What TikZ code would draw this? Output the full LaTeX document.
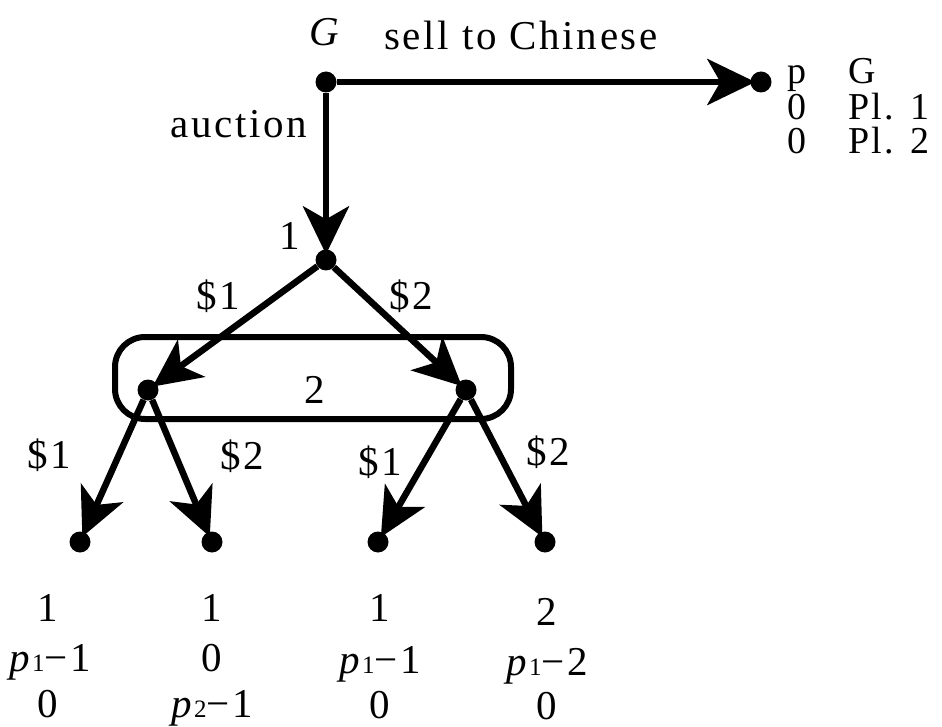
\documentclass[tikz,border=0pt]{standalone}
\usepackage{fontspec}
\setmainfont[LetterSpace=6.5]{Liberation Serif}
\usetikzlibrary{arrows.meta}
\newcommand{\sub}[1]{\hbox{\fontsize{25}{25}\selectfont #1}}
\tikzset{
  dot/.style={circle, fill=black, inner sep=0pt, minimum size=21pt},
  edge/.style={line width=6.5pt, shorten >=-5pt, -{Stealth[length=48pt, width=46pt, inset=13pt]}},
  lbl/.style={font=\fontsize{41}{41}\selectfont, inner sep=0pt},
  pay/.style={lbl, anchor=base},
  tpay/.style={font=\fontsize{38}{38}\selectfont, inner sep=0pt, text height=25pt, text depth=0pt},
  infobox/.style={draw, line width=6pt, rounded corners=30pt, minimum width=396pt, minimum height=82pt, inner sep=0pt}
}
\begin{document}
\begin{tikzpicture}[x=1pt, y=-1pt]
\useasboundingbox (0,0) rectangle (942,727);
% info set
\node[infobox] (info) at (313,378) {};
% nodes
\node[dot] (g) at (326,82) {};
\node[dot] (t) at (761,82) {};
\node[dot] (n1) at (326,260) {};
\node[dot] (a) at (148,390) {};
\node[dot] (b) at (466,390) {};
\node[dot] (l1) at (80,542) {};
\node[dot] (l2) at (212,542) {};
\node[dot] (l3) at (378,542) {};
\node[dot] (l4) at (545,542) {};
% edges
\draw[edge] (g) -- (t);
\draw[edge] (g) -- (n1);
\draw[edge] (n1) -- (a);
\draw[edge] (n1) -- (b);
\draw[edge] (a) -- (l1);
\draw[edge] (a) -- (l2);
\draw[edge] (b) -- (l3);
\draw[edge] (b) -- (l4);
% labels
\node[lbl] (gl) at (326,32) {\textit{G}};
\node[lbl] (sell) at (521,35) {sell to Chinese};
\node[lbl] (auc) at (239,124) {auction};
\node[lbl] (one) at (290,236) {1};
\node[lbl] (two) at (315,390) {2};
\node[lbl] (e1) at (218,296) {\$1};
\node[lbl] (e2) at (411,296) {\$2};
\node[lbl] (e3) at (49,455) {\$1};
\node[lbl] (e4) at (242,456) {\$2};
\node[lbl] (e5) at (380,462) {\$1};
\node[lbl] (e6) at (548,452) {\$2};
% terminal payoff for sell
\node[tpay, anchor=base] (tp) at (797,84) {p};
\node[tpay, anchor=base] (t0a) at (797,120) {0};
\node[tpay, anchor=base] (t0b) at (797,154) {0};
\node[tpay, anchor=base west] (tg) at (848,84) {G};
\node[tpay, anchor=base west] (tp1) at (848,120) {Pl. 1};
\node[tpay, anchor=base west] (tp2) at (848,154) {Pl. 2};
% payoffs
\node[pay] (a1) at (48,621) {1};
\node[pay] (a2) at (50,671) {\textit{p}\sub{1}−1};
\node[pay] (a3) at (48,717) {0};
\node[pay] (b1) at (212,621) {1};
\node[pay] (b2) at (212,671) {0};
\node[pay] (b3) at (212,717) {\textit{p}\sub{2}−1};
\node[pay] (c1) at (380,621) {1};
\node[pay] (c2) at (380,673) {\textit{p}\sub{1}−1};
\node[pay] (c3) at (380,718) {0};
\node[pay] (d1) at (547,625) {2};
\node[pay] (d2) at (547,675) {\textit{p}\sub{1}−2};
\node[pay] (d3) at (547,719) {0};
\end{tikzpicture}
\end{document}
